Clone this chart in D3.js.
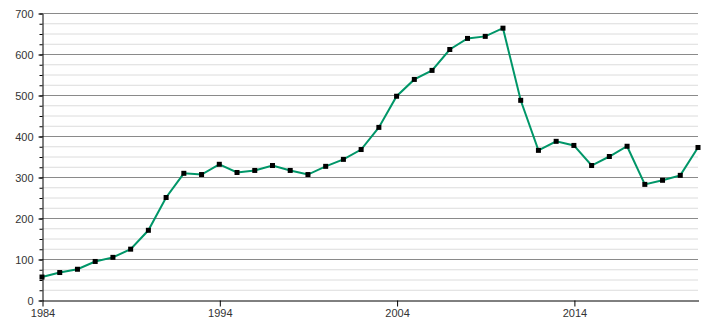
<!DOCTYPE html>
<html>
<head>
<meta charset="utf-8">
<script src="https://cdn.jsdelivr.net/npm/d3@7"></script>
<style>
  body { margin: 0; background: #fff; }
  svg text { font-family: "Liberation Sans", Arial, sans-serif; }
</style>
</head>
<body>
<div id="chart"></div>
<script>
const years = d3.range(1984, 2022);
const values = [56, 67, 75, 94, 104, 124, 170, 250, 309, 306, 331, 311,
  316, 328, 316, 306, 326, 343, 367, 421, 497, 538, 560, 611, 638, 643,
  663, 487, 365, 387, 377, 328, 350, 375, 282, 292, 304, 372];
const xTicks = [1984, 1994, 2004, 2014];
const yMajor = [0, 100, 200, 300, 400, 500, 600, 700];
const yMinor = d3.range(0, 701, 25);

const data = years.map((y, i) => ({x: y, y: values[i]}));

const width = 710;
const height = 320;
const margin = {top: 13, right: 12, bottom: 20, left: 42};

const xScale = d3.scaleLinear()
    .domain([1984, 2021])
    .range([margin.left, width - margin.right]);

const yScale = d3.scaleLinear()
    .domain([0, 700])
    .range([height - margin.bottom, margin.top]);

const svg = d3.select("#chart").append("svg")
    .attr("width", width)
    .attr("height", height);

// minor gridlines
svg.append("g")
  .selectAll("line")
  .data(yMinor.filter(v => v % 100 !== 0))
  .join("line")
    .attr("x1", margin.left)
    .attr("x2", width - margin.right)
    .attr("y1", d => yScale(d) + 0.5)
    .attr("y2", d => yScale(d) + 0.5)
    .attr("stroke", "#dcdcdc");

// major gridlines
svg.append("g")
  .selectAll("line")
  .data(yMajor.filter(v => v > 0))
  .join("line")
    .attr("x1", margin.left)
    .attr("x2", width - margin.right)
    .attr("y1", d => yScale(d) + 0.5)
    .attr("y2", d => yScale(d) + 0.5)
    .attr("stroke", "#8a8a8a");

// y axis minor ticks
svg.append("g")
    .attr("transform", `translate(${margin.left + 0.5},0.5)`)
    .call(d3.axisLeft(yScale).tickValues(yMinor).tickSize(3).tickFormat(""))
    .call(g => g.select(".domain").remove());

// y axis
svg.append("g")
    .attr("transform", `translate(${margin.left + 0.5},0.5)`)
    .call(d3.axisLeft(yScale).tickValues(yMajor).tickSize(4).tickSizeOuter(0).tickPadding(5))
    .call(g => g.selectAll("text").attr("font-size", 11).attr("fill", "#333"));

// x axis
svg.append("g")
    .attr("transform", `translate(0.5,${height - margin.bottom + 0.5})`)
    .call(d3.axisBottom(xScale).tickValues(xTicks).tickFormat(d3.format("d")).tickSize(6).tickSizeOuter(0).tickPadding(3))
    .call(g => g.selectAll("text").attr("font-size", 11).attr("fill", "#333"));

const lineFunc = d3.line()
  .x(({x}) => xScale(x))
  .y(({y}) => yScale(y));

svg.append("path")
  .attr("d", lineFunc(data))
  .attr("stroke", "#009668")
  .attr("stroke-width", 2)
  .attr("fill", "none");

svg.append("g")
  .selectAll("rect")
  .data(data)
  .join("rect")
    .attr("x", d => xScale(d.x) - 2.5)
    .attr("y", d => yScale(d.y) - 2.5)
    .attr("width", 5)
    .attr("height", 5)
    .attr("fill", "#000");
</script>
</body>
</html>
